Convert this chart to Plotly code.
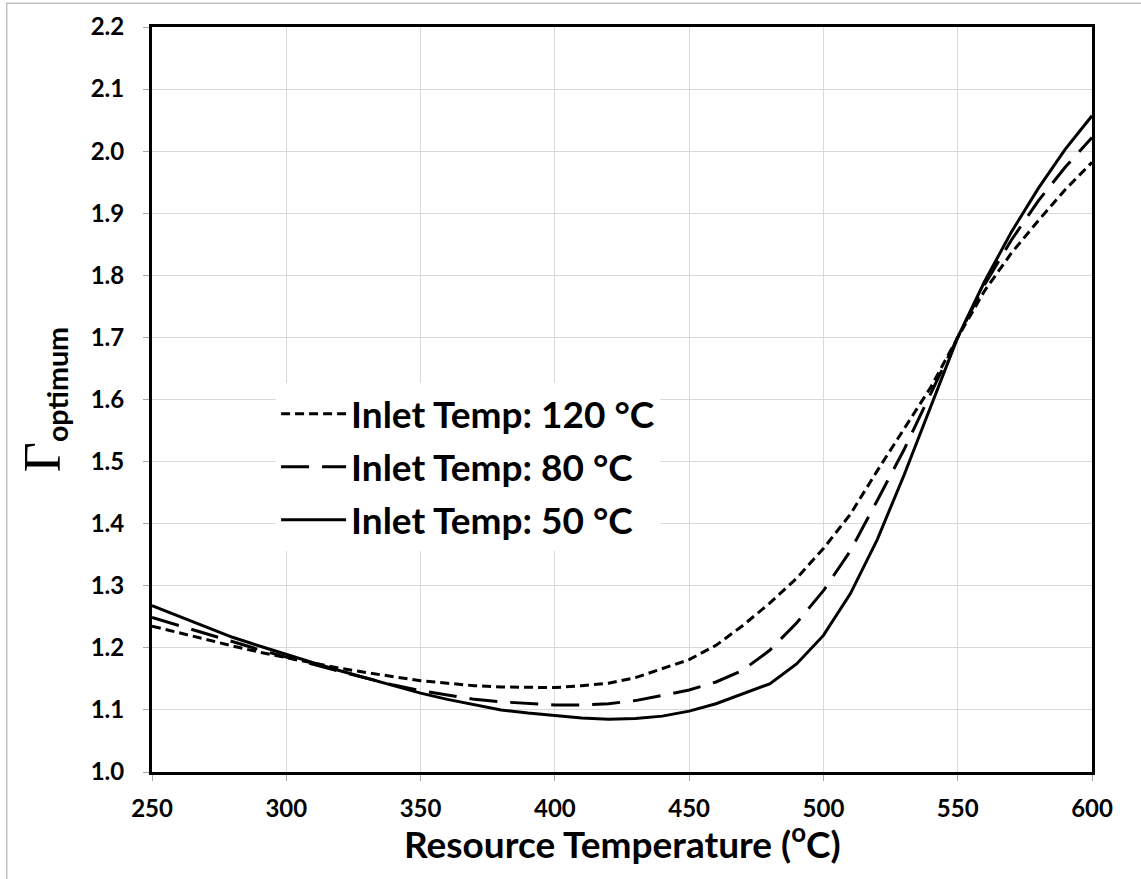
import plotly.graph_objects as go

resource_temp = [250, 260, 270, 280, 290, 300, 310, 320, 330, 340, 350, 360,
                 370, 380, 390, 400, 410, 420, 430, 440, 450, 460, 470, 480,
                 490, 500, 510, 520, 530, 540, 550, 560, 570, 580, 590, 600]

gamma_inlet_120 = [1.235, 1.224, 1.213, 1.203, 1.193, 1.184, 1.175, 1.167, 1.160, 1.153,
                   1.147, 1.143, 1.139, 1.137, 1.136, 1.136, 1.139, 1.143, 1.152, 1.166,
                   1.181, 1.204, 1.236, 1.272, 1.312, 1.360, 1.415, 1.485, 1.553, 1.620,
                   1.700, 1.775, 1.836, 1.888, 1.938, 1.982]

gamma_inlet_80 = [1.249, 1.236, 1.222, 1.209, 1.197, 1.185, 1.173, 1.162, 1.151, 1.140,
                  1.131, 1.124, 1.117, 1.113, 1.110, 1.108, 1.108, 1.110, 1.115, 1.123,
                  1.132, 1.145, 1.164, 1.196, 1.240, 1.292, 1.356, 1.437, 1.519, 1.610,
                  1.700, 1.785, 1.857, 1.920, 1.974, 2.022]

gamma_inlet_50 = [1.268, 1.251, 1.233, 1.217, 1.203, 1.189, 1.176, 1.163, 1.151, 1.139,
                  1.127, 1.117, 1.108, 1.100, 1.095, 1.091, 1.087, 1.085, 1.086, 1.090,
                  1.098, 1.110, 1.126, 1.142, 1.174, 1.220, 1.287, 1.374, 1.478, 1.589,
                  1.700, 1.790, 1.870, 1.940, 2.003, 2.057]

series_names = ["Inlet Temp: 120 °C", "Inlet Temp: 80 °C", "Inlet Temp: 50 °C"]
series_values = [gamma_inlet_120, gamma_inlet_80, gamma_inlet_50]
series_dash = ["9px,5px", "28px,13px", "solid"]

x_title = "Resource Temperature (<sup>o</sup>C)"

FONT = "Lato"

fig = go.Figure()
for i, (name, vals, dash) in enumerate(zip(series_names, series_values, series_dash)):
    fig.add_trace(go.Scatter(
        x=resource_temp, y=vals, mode="lines", name=name,
        legendgroup=f"g{i}",
        line=dict(color="black", width=3, dash=dash),
    ))

fig.update_layout(
    width=1141, height=879,
    margin=dict(l=152, r=49, t=27, b=107),
    paper_bgcolor="white", plot_bgcolor="white",
    font=dict(family=FONT, color="black"),
    showlegend=True,
    legend=dict(
        x=0.132, y=0.522, xanchor="left", yanchor="top",
        bgcolor="white", borderwidth=0,
        font=dict(family=FONT, size=37, color="black", weight="bold"),
        itemwidth=65, tracegroupgap=2,
    ),
    xaxis=dict(
        range=[250, 600], dtick=50, tick0=250,
        showgrid=True, gridcolor="#d9d9d9", gridwidth=1,
        showline=True, linecolor="black", linewidth=3, mirror=True,
        ticks="outside", ticklen=6, tickcolor="#a6a6a6", tickwidth=1,
        tickfont=dict(family=FONT, size=24, color="black", weight="bold"),
        ticklabelstandoff=7,
        zeroline=False, automargin=False,
    ),
    yaxis=dict(
        range=[1.0, 2.2], dtick=0.1, tick0=1.0, tickformat=".1f",
        showgrid=True, gridcolor="#d9d9d9", gridwidth=1,
        showline=True, linecolor="black", linewidth=3, mirror=True,
        ticks="outside", ticklen=6, tickcolor="#a6a6a6", tickwidth=1,
        tickfont=dict(family=FONT, size=24, color="black", weight="bold"),
        ticklabelstandoff=14,
        zeroline=False, automargin=False,
        title=dict(text='<span style="font-family:Liberation Serif;font-size:52px;font-weight:normal">Γ</span><sub>optimum</sub>',
                   font=dict(family=FONT, size=41, color="black", weight="bold"),
                   standoff=18),
    ),
    annotations=[dict(text=x_title, xref="paper", yref="paper",
                      x=0.5, y=-0.093, xanchor="center", yanchor="middle",
                      showarrow=False, borderpad=0,
                      font=dict(family=FONT, size=37, color="black", weight="bold"))],
    shapes=[dict(type="rect", xref="paper", yref="paper",
                 x0=-0.1546, x1=1.2, y0=-0.3, y1=1.0318,
                 line=dict(color="#bfbfbf", width=1.5), fillcolor="rgba(0,0,0,0)",
                 layer="below")],
)

fig.write_html("out.html")
